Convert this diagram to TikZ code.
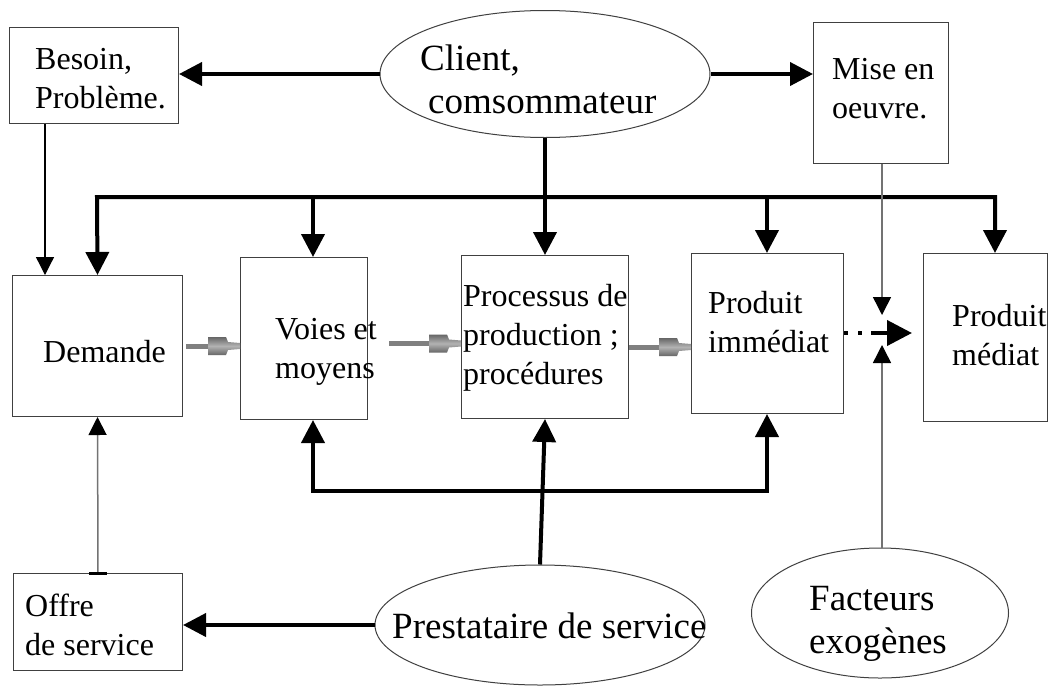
\documentclass[tikz,border=0pt]{standalone}
\usepackage{fontspec}
\setmainfont{Liberation Serif}
\usetikzlibrary{arrows.meta,shapes.geometric}
\tikzset{
  box/.style={draw=black!75, line width=1pt, inner sep=0pt, anchor=north west},
  ell/.style={ellipse, draw=black!75, line width=1pt, inner sep=0pt, fill=white},
  btxt/.style={font=\fontsize{32}{39}\selectfont, align=left, inner sep=0pt, anchor=base west},
  etxt/.style={font=\fontsize{37}{43}\selectfont, align=left, inner sep=0pt, anchor=base west},
  thk/.style={line width=4pt, -{Triangle[length=23pt,width=23pt]}},
  thkboth/.style={line width=4pt, {Triangle[length=23pt,width=23pt]}-{Triangle[length=23pt,width=23pt]}},
  tarr/.style={line width=1.3pt, -{Triangle[length=18pt,width=18pt]}},
  garr/.style={line width=1.5pt, draw=black!55, -{Triangle[length=18pt,width=18pt,color=black]}},
  dotarr/.style={line width=4pt, dash pattern=on 4pt off 10pt on 4pt off 9pt on 40pt, -{Triangle[length=25pt,width=25pt]}},
  gbar/.style={line width=5pt, draw=black!50},
  ghead/.style={top color=black!60, bottom color=black!60, middle color=black!30}
}
\newcommand\grarr[2]{%
  \draw[gbar] (#1) -- ([xshift=-30pt]#2);
  \shade[ghead] ([xshift=-32pt]#2) ++(0,-9) -- ++(18,0) -- ++(2,5) -- ++(12,1) -- ++(0,6) -- ++(-12,1) -- ++(-2,5) -- ++(-18,0) -- cycle;}
\begin{document}
\begin{tikzpicture}[x=1pt,y=-1pt]
\useasboundingbox (0,0) rectangle (1057,686);
\fill[white] (0,0) rectangle (1057,686);
% boxes
\node[box, minimum width=169pt, minimum height=96pt] (besoin) at (9,27) {};
\node[box, minimum width=135pt, minimum height=141pt] (mise) at (813,22) {};
\node[box, minimum width=170pt, minimum height=141pt] (dem) at (12,275) {};
\node[box, minimum width=127pt, minimum height=162pt] (voies) at (240,257) {};
\node[box, minimum width=167pt, minimum height=163pt] (proc) at (461,255) {};
\node[box, minimum width=152pt, minimum height=160pt] (pimm) at (691,253) {};
\node[box, minimum width=124pt, minimum height=168pt] (pmed) at (923,253) {};
\node[box, minimum width=169pt, minimum height=97pt] (offre) at (13,573) {};
% ellipses
\node[ell, minimum width=330pt, minimum height=127pt] (client) at (545,74) {};
\node[ell, minimum width=330pt, minimum height=120pt] (prest) at (540,625) {};
\node[ell, minimum width=257pt, minimum height=130pt] (fact) at (880,613) {};
% texts (base anchor = baseline of last line)
\node[btxt] (tbesoin) at (35,108) {Besoin,\\Problème.};
\node[etxt] (tclient) at (420,113) {Client,\\\hspace*{8pt}comsommateur};
\node[btxt] (tmise) at (832,118) {Mise en\\oeuvre.};
\node[btxt] (tdem) at (43,362) {Demande};
\node[btxt] (tvoies) at (275,378) {Voies et\\moyens};
\node[btxt] (tproc) at (463,384) {Processus de\\production ;\\procédures};
\node[btxt] (tpimm) at (708,352) {Produit\\immédiat};
\node[btxt] (tpmed) at (952,365) {Produit\\médiat};
\node[btxt] (toffre) at (25,655) {Offre\\de service};
\node[etxt] (tprest) at (392,638) {Prestataire de service};
\node[etxt] (tfact) at (809,653) {Facteurs\\exogènes};
% client arrows
\draw[thk] (client.west) -- (besoin.east |- client.west);
\draw[thk] (client.east) -- (mise.west |- client.east);
% top bus
\coordinate (b1) at (97,197);
\coordinate (b2) at (313,197);
\coordinate (b4) at (767,197);
\coordinate (b5) at (995,197);
\draw[thkboth] (dem.north) -- (b1) -- (b5) -- (b5 |- pmed.north);
\draw[thk] (b2) -- (b2 |- voies.north);
\draw[thk] (client.south) -- (proc.north);
\draw[thk] (b4) -- (b4 |- pimm.north);
% bottom bus
\coordinate (c1) at (313,491);
\coordinate (c2) at (767,491);
\draw[thkboth] (c1 |- voies.south) -- (c1) -- (c2) -- (c2 |- pimm.south);
\draw[thk] (prest.north) -- (proc.south);
\draw[thk] (prest.west) -- (offre.east |- prest.west);
% thin connectors
\coordinate (bx) at (45,0);
\draw[tarr] (besoin.south -| bx) -- (dem.north -| bx);
\coordinate (mtip) at (882,315);
\draw[garr] (mise.south -| mtip) -- (mtip);
\coordinate (ftip) at (882,345);
\draw[garr] (fact.north -| ftip) -- (ftip);
\draw[garr] (offre.north) -- (dem.south);
\draw[line width=3pt] ([xshift=-9pt]offre.north) -- ([xshift=9pt]offre.north);
\coordinate (dtip) at (912,333);
\draw[dotarr] (pimm.east |- dtip) -- (dtip);
% gray flow arrows
\coordinate (g1s) at ([xshift=3pt]dem.east);
\coordinate (g1e) at (voies.west |- g1s);
\grarr{g1s}{g1e}
\coordinate (g2s) at ([xshift=21pt,yshift=-5pt]voies.east);
\coordinate (g2e) at (proc.west |- g2s);
\grarr{g2s}{g2e}
\coordinate (g3s) at ([yshift=-10pt]proc.east);
\coordinate (g3e) at (pimm.west |- g3s);
\grarr{g3s}{g3e}
\end{tikzpicture}
\end{document}
